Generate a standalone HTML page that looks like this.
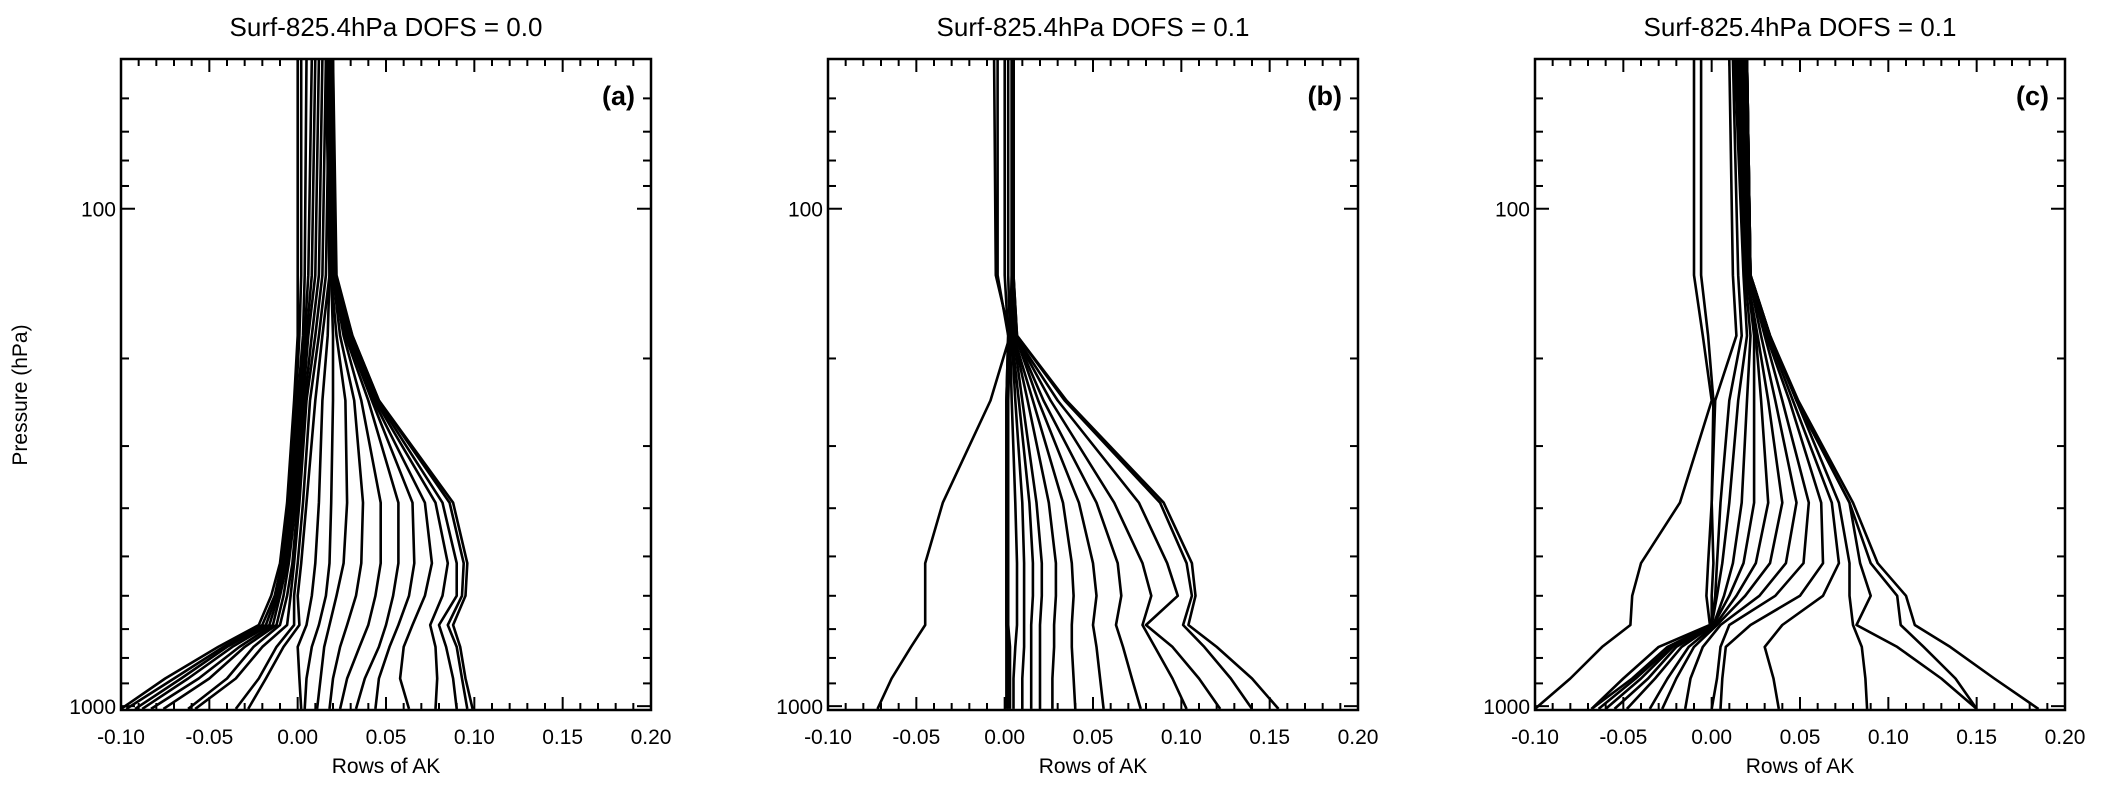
<!DOCTYPE html>
<html><head><meta charset="utf-8">
<style>
html,body{margin:0;padding:0;background:#fff;}
svg{display:block;font-family:"Liberation Sans",sans-serif;}
</style></head>
<body>
<svg id="chart" width="2102" height="790" viewBox="0 0 2102 790" xmlns="http://www.w3.org/2000/svg">
<text x="27" y="395" transform="rotate(-90 27 395)" text-anchor="middle" font-size="21">Pressure (hPa)</text>
</svg>
<script>
const pressureLevels = [50,136,180,243,390,516,600,687,760,880,1013];
const xTicks = [-0.10,-0.05,0.00,0.05,0.10,0.15,0.20];
const xTickLabels = ["-0.10","-0.05","0.00","0.05","0.10","0.15","0.20"];
const yMajorTicks = [100,1000];
const yMinorTicks = [60,70,80,90,200,300,400,500,600,700,800,900];
const panelTitles = ["Surf-825.4hPa DOFS = 0.0","Surf-825.4hPa DOFS = 0.1","Surf-825.4hPa DOFS = 0.1"];
const panelLabels = ["(a)","(b)","(c)"];

const rowsA = [
[0.000,0.000,0.000,-0.002,-0.006,-0.010,-0.015,-0.022,-0.045,-0.075,-0.100],
[0.002,0.002,0.001,-0.001,-0.005,-0.009,-0.013,-0.020,-0.042,-0.070,-0.097],
[0.005,0.004,0.003,0.000,-0.004,-0.008,-0.012,-0.018,-0.040,-0.066,-0.092],
[0.008,0.006,0.004,0.001,-0.003,-0.007,-0.011,-0.016,-0.037,-0.062,-0.088],
[0.010,0.008,0.005,0.002,-0.002,-0.006,-0.010,-0.014,-0.033,-0.056,-0.083],
[0.012,0.010,0.006,0.003,-0.001,-0.005,-0.008,-0.012,-0.030,-0.050,-0.076],
[0.014,0.012,0.008,0.004,0.000,-0.003,-0.006,-0.010,-0.025,-0.040,-0.062],
[0.016,0.014,0.010,0.005,0.001,-0.002,-0.004,-0.006,-0.020,-0.035,-0.058],
[0.018,0.016,0.012,0.007,0.003,0.000,-0.002,-0.002,-0.012,-0.022,-0.035],
[0.019,0.018,0.014,0.010,0.005,0.002,0.000,0.001,-0.008,-0.018,-0.028],
[0.016,0.018,0.017,0.014,0.012,0.010,0.008,0.005,0.000,0.001,0.002],
[0.016,0.019,0.020,0.020,0.019,0.018,0.016,0.012,0.008,0.005,0.004],
[0.017,0.019,0.022,0.027,0.028,0.026,0.022,0.018,0.015,0.013,0.011],
[0.017,0.020,0.024,0.032,0.037,0.036,0.033,0.028,0.024,0.020,0.018],
[0.018,0.020,0.026,0.036,0.047,0.047,0.044,0.040,0.035,0.028,0.024],
[0.018,0.020,0.027,0.040,0.057,0.057,0.054,0.050,0.046,0.038,0.033],
[0.018,0.020,0.028,0.042,0.065,0.066,0.063,0.057,0.052,0.046,0.044],
[0.019,0.020,0.029,0.043,0.072,0.076,0.072,0.065,0.060,0.058,0.063],
[0.019,0.021,0.030,0.044,0.078,0.085,0.082,0.075,0.078,0.079,0.078],
[0.019,0.021,0.030,0.045,0.082,0.090,0.090,0.080,0.084,0.088,0.090],
[0.020,0.021,0.031,0.046,0.086,0.094,0.093,0.085,0.090,0.093,0.096],
[0.020,0.022,0.031,0.046,0.088,0.096,0.095,0.088,0.092,0.095,0.099]
];
const rowsB = [
[-0.006,-0.005,0.003,-0.008,-0.035,-0.045,-0.045,-0.045,-0.053,-0.064,-0.072],
[-0.004,-0.004,0.002,0.001,0.001,0.001,0.001,0.001,0.001,0.001,0.001],
[0.000,0.000,0.002,0.001,0.001,0.001,0.001,0.001,0.002,0.002,0.002],
[0.002,0.002,0.003,0.002,0.002,0.002,0.002,0.002,0.003,0.003,0.003],
[0.004,0.004,0.003,0.004,0.006,0.007,0.007,0.007,0.006,0.005,0.005],
[0.004,0.004,0.004,0.006,0.010,0.011,0.011,0.011,0.011,0.010,0.010],
[0.005,0.005,0.004,0.008,0.014,0.016,0.016,0.015,0.015,0.015,0.015],
[0.005,0.005,0.005,0.010,0.018,0.021,0.021,0.020,0.020,0.020,0.020],
[0.005,0.005,0.005,0.013,0.025,0.029,0.029,0.028,0.028,0.027,0.027],
[0.005,0.005,0.005,0.016,0.033,0.038,0.039,0.038,0.038,0.039,0.040],
[0.005,0.005,0.006,0.019,0.042,0.050,0.052,0.050,0.052,0.054,0.056],
[0.005,0.005,0.006,0.022,0.052,0.064,0.066,0.063,0.067,0.072,0.077],
[0.005,0.005,0.006,0.026,0.062,0.078,0.083,0.078,0.085,0.095,0.103],
[0.005,0.005,0.006,0.030,0.076,0.092,0.098,0.080,0.095,0.110,0.122],
[0.005,0.005,0.007,0.034,0.088,0.103,0.106,0.101,0.113,0.128,0.140],
[0.005,0.005,0.007,0.035,0.090,0.106,0.108,0.104,0.120,0.140,0.155]
];
const rowsC = [
[-0.010,-0.010,-0.005,0.000,-0.018,-0.040,-0.045,-0.046,-0.062,-0.080,-0.100],
[-0.006,-0.006,-0.002,0.001,0.000,-0.002,-0.003,-0.001,-0.030,-0.050,-0.068],
[0.010,0.012,0.014,0.002,0.000,0.001,0.000,0.000,-0.025,-0.045,-0.068],
[0.012,0.015,0.017,0.010,0.005,0.003,0.002,0.000,-0.023,-0.043,-0.064],
[0.013,0.018,0.020,0.015,0.010,0.006,0.003,0.000,-0.022,-0.040,-0.060],
[0.014,0.019,0.022,0.020,0.017,0.012,0.007,0.001,-0.020,-0.036,-0.055],
[0.015,0.020,0.024,0.024,0.024,0.018,0.010,0.001,-0.017,-0.032,-0.048],
[0.016,0.020,0.025,0.028,0.032,0.025,0.014,0.002,-0.013,-0.025,-0.035],
[0.017,0.020,0.026,0.032,0.040,0.033,0.019,0.003,-0.010,-0.020,-0.028],
[0.018,0.021,0.028,0.036,0.048,0.042,0.027,0.005,-0.005,-0.012,-0.015],
[0.019,0.021,0.030,0.040,0.055,0.052,0.036,0.010,0.005,0.003,0.000],
[0.019,0.021,0.031,0.044,0.062,0.063,0.050,0.022,0.008,0.006,0.005],
[0.020,0.022,0.032,0.046,0.068,0.072,0.063,0.040,0.030,0.035,0.038],
[0.020,0.022,0.033,0.048,0.072,0.078,0.078,0.080,0.085,0.087,0.088],
[0.020,0.022,0.033,0.048,0.078,0.084,0.090,0.082,0.105,0.130,0.150],
[0.020,0.022,0.033,0.048,0.078,0.090,0.105,0.107,0.120,0.138,0.150],
[0.020,0.022,0.033,0.049,0.080,0.094,0.110,0.115,0.135,0.160,0.185]
];
const panelRows = [rowsA, rowsB, rowsC];

const NS = "http://www.w3.org/2000/svg";
const svg = document.getElementById("chart");
const panelLefts = [121, 828, 1535];
const plotW = 530, plotTop = 59, plotBot = 710;
const xMin = -0.10, xMax = 0.20, pTop = 50, pBot = 1018;
function mk(tag, attrs, parent){ const e=document.createElementNS(NS,tag); for(const k in attrs) e.setAttribute(k,attrs[k]); (parent||svg).appendChild(e); return e; }
function yScale(p){ return plotTop + (Math.log10(p)-Math.log10(pTop))/(Math.log10(pBot)-Math.log10(pTop))*(plotBot-plotTop); }

panelLefts.forEach((L, pi) => {
  const xScale = v => L + (v - xMin)/(xMax - xMin)*plotW;
  const g = mk("g", {});
  
  
  const t = mk("text", {x: L + plotW/2, y: 36, "text-anchor":"middle", "font-size":"26"}, g);
  t.textContent = panelTitles[pi];
  
  
  const lg = mk("g", {}, g);
  
  
  panelRows[pi].forEach(row => {
    const pts = row.map((v,i) => xScale(v).toFixed(1)+","+yScale(pressureLevels[i]).toFixed(1)).join(" ");
    const pl = mk("polyline", {points: pts, fill:"none", stroke:"#000", "stroke-width":"2.6", "stroke-linejoin":"round"}, lg);
    
    
  });
  const fr = mk("rect", {x:L, y:plotTop, width:plotW, height:plotBot-plotTop, fill:"none", stroke:"#000", "stroke-width":"2.5"}, g);
  
  
  // x ticks
  for (let k = 0; k <= 30; k++) {
    const v = xMin + k*0.01, x = xScale(v), len = (k%5===0) ? 13 : 7;
    mk("line", {x1:x, x2:x, y1:plotBot, y2:plotBot-len, stroke:"#000", "stroke-width":"2"}, g);
    mk("line", {x1:x, x2:x, y1:plotTop, y2:plotTop+len, stroke:"#000", "stroke-width":"2"}, g);
  }
  xTicks.forEach((v,i) => {
    const tl = mk("text", {x:xScale(v), y:744, "text-anchor":"middle", "font-size":"21"}, g);
    tl.textContent = xTickLabels[i];
    
    
  });
  yMinorTicks.forEach(p => {
    const y = yScale(p);
    mk("line", {x1:L, x2:L+8, y1:y, y2:y, stroke:"#000", "stroke-width":"2"}, g);
    mk("line", {x1:L+plotW, x2:L+plotW-8, y1:y, y2:y, stroke:"#000", "stroke-width":"2"}, g);
  });
  yMajorTicks.forEach(p => {
    const y = yScale(p);
    mk("line", {x1:L, x2:L+14, y1:y, y2:y, stroke:"#000", "stroke-width":"2"}, g);
    mk("line", {x1:L+plotW, x2:L+plotW-14, y1:y, y2:y, stroke:"#000", "stroke-width":"2"}, g);
    const yl = mk("text", {x:L-5, y:y+8, "text-anchor":"end", "font-size":"21"}, g);
    yl.textContent = String(p);
    
    
  });
  const xt = mk("text", {x:L + plotW/2, y:773, "text-anchor":"middle", "font-size":"21"}, g);
  xt.textContent = "Rows of AK";
  
  
  const pl = mk("text", {x:L+plotW-16, y:105, "text-anchor":"end", "font-size":"27", "font-weight":"bold"}, g);
  pl.textContent = panelLabels[pi];
  
  
});
</script>
</body></html>
